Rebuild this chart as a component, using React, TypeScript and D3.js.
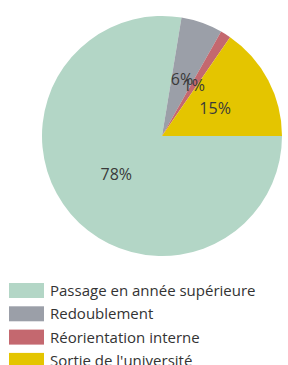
import * as d3 from 'd3'
import { useRef, useEffect } from 'react'

const categories = ['Passage en année supérieure', 'Redoublement', 'Réorientation interne', "Sortie de l'université"]
const values = [77.6, 5.6, 1.4, 15.4]
const labels = ['78%', '6%', '1%', '15%']
const colors = ['#b3d6c6', '#9b9fa8', '#c4686f', '#e4c500']

const Pie: React.FC = () => {
  const svgRef = useRef(null)
  const svgWidth = 288
  const svgHeight = 365
  const cx = 162
  const cy = 136
  const radius = 120

  useEffect((): void => {
    const SVG = d3.select(svgRef.current)
    SVG.attr('width', svgWidth).attr('height', svgHeight)
    SVG.selectAll('*').remove()

    const pie = d3.pie<number>()
      .sort(null)
      .startAngle(Math.PI / 2)
      .endAngle(Math.PI / 2 + 2 * Math.PI)
    const arc = d3.arc<d3.PieArcDatum<number>>()
      .innerRadius(0)
      .outerRadius(radius)

    const arcs = pie(values)
    const g = SVG.append('g').attr('transform', `translate(${cx},${cy})`)

    g.selectAll('path')
      .data(arcs)
      .enter()
      .append('path')
      .attr('d', arc)
      .attr('fill', (d, i) => colors[i])

    g.selectAll('text')
      .data(arcs)
      .enter()
      .append('text')
      .attr('transform', d => `translate(${arc.centroid(d)})`)
      .attr('text-anchor', 'middle')
      .attr('dy', '0.35em')
      .attr('font-family', 'Open Sans, sans-serif')
      .attr('font-size', 16)
      .attr('fill', '#3a3a3a')
      .text((d, i) => labels[i])

    const legend = SVG.append('g').attr('transform', 'translate(9,283)')
    const row = legend.selectAll('g')
      .data(categories)
      .enter()
      .append('g')
      .attr('transform', (d, i) => `translate(0,${i * 23.3})`)
    row.append('rect')
      .attr('width', 35)
      .attr('height', 15)
      .attr('fill', (d, i) => colors[i])
    row.append('text')
      .attr('x', 41)
      .attr('y', 13)
      .attr('font-family', 'Open Sans, sans-serif')
      .attr('font-size', 15)
      .attr('fill', '#333')
      .text(d => d)
  }, [])

  return <svg ref={svgRef} style={{ position: 'absolute', left: 0, top: 0 }}></svg>
}

export default function App() {
  return <Pie />
}
